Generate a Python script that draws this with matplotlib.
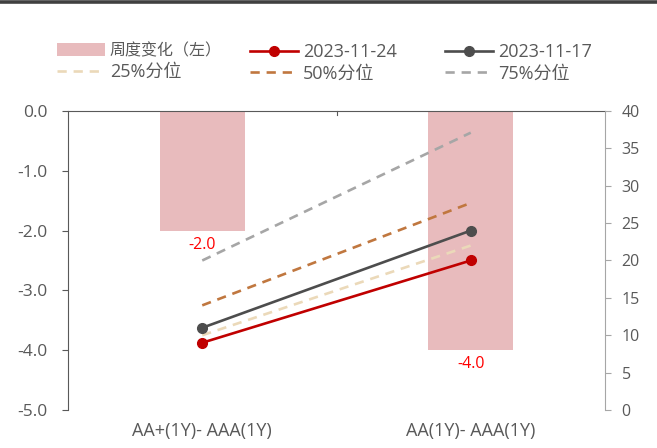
import matplotlib
matplotlib.use("Agg")
import matplotlib.pyplot as plt
from matplotlib.lines import Line2D
from matplotlib.patches import Patch

plt.rcParams['font.family'] = ['Open Sans', 'Noto Sans CJK SC', 'DejaVu Sans']

categories = ["AA+(1Y)- AAA(1Y)", "AA(1Y)- AAA(1Y)"]
weekly_change = [-2.0, -4.0]
s_20231124 = [9.0, 20.0]
s_20231117 = [11.0, 24.0]
p25 = [10.0, 22.0]
p50 = [14.0, 27.7]
p75 = [20.0, 37.1]
left_ticks = [0.0, -1.0, -2.0, -3.0, -4.0, -5.0]
right_ticks = [0, 5, 10, 15, 20, 25, 30, 35, 40]

W, H = 657, 448
fig = plt.figure(figsize=(W / 100, H / 100), dpi=100)
ax = fig.add_axes([68 / W, 1 - 410 / H, (605 - 68) / W, (410 - 111) / H])
ax2 = ax.twinx()

txt = '#595959'
bar_c = '#E8BBBD'
x = list(range(len(categories)))

ax.bar(x, weekly_change, width=0.315, color=bar_c, zorder=1)
for xi, v in zip(x, weekly_change):
    ax.text(xi, v - 0.1, f"{v:.1f}", ha='center', va='top', color='#FF0000', fontsize=11.5)

ax.set_ylim(-5, 0)
ax.set_xlim(-0.5, 1.5)
ax.set_yticks(left_ticks)
ax.set_yticklabels([f"{t:.1f}" for t in left_ticks])
ax2.set_ylim(0, 40)
ax2.set_yticks(right_ticks)

dash = (3.5, 2.6)
l75, = ax2.plot(x, p75, color='#A6A6A6', lw=1.9, dashes=dash)
l50, = ax2.plot(x, p50, color='#C0773F', lw=1.9, dashes=dash)
l25, = ax2.plot(x, p25, color='#EBD9B9', lw=1.9, dashes=dash)
l17, = ax2.plot(x, s_20231117, color='#4D4D4D', lw=1.9, marker='o', ms=7)
l24, = ax2.plot(x, s_20231124, color='#C00000', lw=1.9, marker='o', ms=7)

ax.spines['bottom'].set_visible(False)
ax.spines['right'].set_visible(False)
ax.spines['top'].set_color('#595959')
ax.spines['left'].set_color('#595959')
ax2.spines['top'].set_visible(False)
ax2.spines['left'].set_visible(False)
ax2.spines['bottom'].set_visible(False)
ax2.spines['right'].set_color('#A6A6A6')

ax.tick_params(axis='y', direction='out', length=4, color='#595959', labelcolor=txt, labelsize=12.5, pad=11)
ax2.tick_params(axis='y', direction='out', length=4, color='#A6A6A6', labelcolor=txt, labelsize=11.5, pad=8)
ax.set_xticks([])
for xs in [0.5]:
    ax.plot([xs, xs], [0, -0.06], color='#595959', lw=0.8, clip_on=False)
for xi, c in zip(x, categories):
    ax.text(xi, -5.2, c, ha='center', va='top', color=txt, fontsize=13)

def mk_leg(handles, labels, xpx):
    return fig.legend(handles, labels, loc='upper left', bbox_to_anchor=(xpx / W, 1 - 43 / H),
                      frameon=False, fontsize=13, handlelength=2.65, handletextpad=0.28,
                      labelspacing=0.2, borderpad=0, borderaxespad=0, labelcolor=txt)

bar_h = Patch(facecolor=bar_c, edgecolor='none')
lg1 = mk_leg([bar_h, l25], ["周度变化（左）", "25%分位"], 57)
lg1.get_texts()[0].set_fontsize(11.5)
mk_leg([l24, l50], ["2023-11-24", "50%分位"], 250)
mk_leg([l17, l75], ["2023-11-17", "75%分位"], 445)

fig.add_artist(Line2D([0, 1], [1 - 2.5 / H, 1 - 2.5 / H], color='#404040', lw=2.6, transform=fig.transFigure))

fig.savefig("out.png", dpi=100)
